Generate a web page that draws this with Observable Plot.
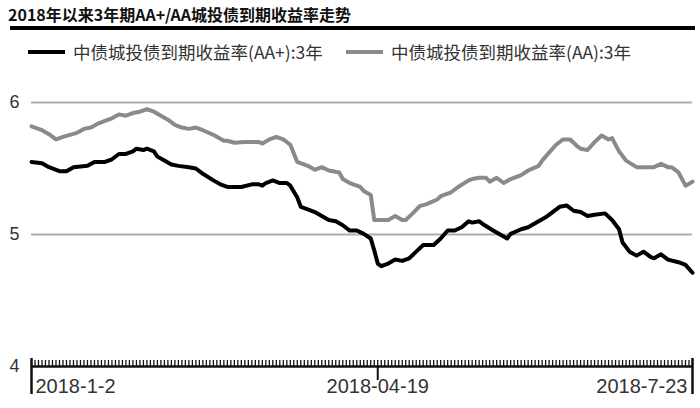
<!DOCTYPE html>
<html>
<head>
<meta charset="utf-8">
<script src="https://cdn.jsdelivr.net/npm/d3@7"></script>
<script src="https://cdn.jsdelivr.net/npm/@observablehq/plot@0.6"></script>
<style>
  html, body { margin: 0; padding: 0; background: #fff; }
  #wrap { position: relative; width: 700px; height: 408px; overflow: hidden; }
  #head { position: relative; height: 62px; }
  #title { position: absolute; left: 8px; top: 2px; font-family: "Noto Sans CJK SC", sans-serif; font-weight: bold; font-size: 16px; color: #111; white-space: nowrap; }
  #rule { position: absolute; left: 10px; top: 26px; width: 685px; height: 4px; background: #000; }
  .leg { position: absolute; top: 39px; font-family: "Noto Sans CJK SC", sans-serif; font-size: 17.5px; color: #333; white-space: nowrap; display: flex; align-items: center; }
  .sw { display: inline-block; width: 37px; height: 4px; margin-right: 8px; }
  #chart { position: absolute; left: 0; top: 62px; }
</style>
</head>
<body>
<div id="wrap">
  <div id="head">
    <div id="title"></div>
    <div id="rule"></div>
    <div class="leg" id="leg1" style="left:28px"></div>
    <div class="leg" id="leg2" style="left:346px"></div>
  </div>
  <div id="chart"></div>
</div>
<script>
const titleText = "2018年以来3年期AA+/AA城投债到期收益率走势";
const seriesNames = ["中债城投债到期收益率(AA+):3年", "中债城投债到期收益率(AA):3年"];
const seriesColors = ["#000000", "#8a8a8a"];

// x = trading-day index from 2018-1-2 (0) to 2018-7-23 (189)
const dayTicks = d3.range(0, 190);
const labelDays = [0, 99, 189];
const labelTexts = ["2018-1-2", "2018-04-19", "2018-7-23"];
const yTicks = [4, 5, 6];
const gridValues = [5, 6];

// AA+ 3Y
const aaPlusDays = [0,3,5,8,10,12,14,16,18,21,23,25,27,29,30,32,33,35,36,38,40,42,45,47,49,52,54,56,60,63,65,66,67,69,71,73,74,76,77,79,81,83,85,87,89,91,93,95,97,98,99,100,102,104,106,108,110,112,115,117,119,121,123,125,126,128,129,132,136,137,140,142,145,147,149,151,153,155,157,159,161,164,166,168,169,171,173,175,177,178,180,182,185,187,189];
const aaPlusValues = [5.55,5.54,5.51,5.48,5.48,5.51,5.515,5.52,5.55,5.55,5.57,5.61,5.61,5.63,5.65,5.64,5.65,5.63,5.59,5.56,5.53,5.52,5.51,5.50,5.46,5.41,5.38,5.36,5.36,5.38,5.38,5.37,5.39,5.41,5.39,5.39,5.37,5.28,5.21,5.19,5.17,5.14,5.11,5.10,5.07,5.03,5.03,5.005,4.97,4.88,4.78,4.76,4.78,4.81,4.80,4.82,4.87,4.92,4.92,4.97,5.03,5.03,5.055,5.10,5.09,5.10,5.08,5.03,4.97,5.005,5.04,5.055,5.10,5.13,5.17,5.21,5.22,5.18,5.17,5.14,5.15,5.16,5.11,5.04,4.94,4.87,4.84,4.87,4.83,4.82,4.85,4.81,4.79,4.77,4.71];

// AA 3Y
const aaDays = [0,3,5,7,9,11,13,15,17,19,21,23,25,27,29,31,33,35,37,39,41,43,45,47,49,52,55,56,58,61,63,65,66,68,70,72,74,76,79,81,83,85,88,89,91,94,95,97,98,100,102,104,106,107,109,111,113,116,117,120,122,125,126,128,130,131,133,135,137,140,142,145,146,148,150,152,154,156,157,159,161,163,165,166,168,170,173,175,178,180,182,183,185,187,189];
const aaValues = [5.82,5.79,5.76,5.72,5.74,5.755,5.77,5.80,5.81,5.84,5.86,5.88,5.91,5.90,5.92,5.93,5.95,5.93,5.90,5.87,5.83,5.81,5.80,5.81,5.79,5.755,5.71,5.71,5.695,5.70,5.70,5.70,5.69,5.72,5.74,5.72,5.68,5.55,5.52,5.49,5.51,5.485,5.47,5.42,5.39,5.36,5.33,5.30,5.11,5.11,5.11,5.14,5.11,5.11,5.16,5.215,5.23,5.265,5.29,5.32,5.36,5.41,5.42,5.43,5.43,5.40,5.43,5.39,5.42,5.45,5.485,5.52,5.56,5.62,5.68,5.72,5.72,5.67,5.65,5.64,5.70,5.75,5.72,5.73,5.63,5.56,5.51,5.51,5.51,5.535,5.51,5.51,5.47,5.37,5.40];

const aaPlus = aaPlusDays.map((d, i) => ({day: d, value: aaPlusValues[i]}));
const aa = aaDays.map((d, i) => ({day: d, value: aaValues[i]}));
const labels = labelDays.map((d, i) => ({day: d, text: labelTexts[i]}));

document.getElementById("title").textContent = titleText;
[["leg1", 0], ["leg2", 1]].forEach(([id, i]) => {
  const el = document.getElementById(id);
  const sw = document.createElement("span");
  sw.className = "sw";
  sw.style.background = seriesColors[i];
  el.appendChild(sw);
  el.appendChild(document.createTextNode(seriesNames[i]));
});

const axisFont = "Liberation Sans, Arial, sans-serif";
const chart = Plot.plot({
  width: 700,
  height: 346,
  marginLeft: 31,
  marginRight: 8,
  marginTop: 40,
  marginBottom: 42,
  style: {fontFamily: axisFont, background: "#fff"},
  x: {domain: [0, 189], axis: null},
  y: {domain: [4, 6], axis: null},
  marks: [
    Plot.ruleY(gridValues, {stroke: "#adadad", strokeWidth: 2}),
    Plot.text(yTicks, {x: 0, y: d => d, text: d => String(d), textAnchor: "end", dx: -12, fontSize: 18, fill: "#333"}),
    Plot.ruleX(dayTicks, {x: d => d, y1: 4, y2: 4, insetTop: -6, stroke: "#111", strokeWidth: 1.3}),
    Plot.ruleY([4], {stroke: "#111", strokeWidth: 2.5}),
    Plot.ruleX([labelDays[0], labelDays[2]], {x: d => d, y1: 4, y2: 4, insetTop: -8, insetBottom: -28, stroke: "#111", strokeWidth: 2.5}),
    Plot.ruleX([labelDays[1]], {x: d => d, y1: 4, y2: 4, insetBottom: -14, stroke: "#111", strokeWidth: 2}),
    Plot.line(aa, {x: "day", y: "value", stroke: seriesColors[1], strokeWidth: 4, strokeLinejoin: "round"}),
    Plot.line(aaPlus, {x: "day", y: "value", stroke: seriesColors[0], strokeWidth: 4, strokeLinejoin: "round"}),
    Plot.text([labels[0]], {x: "day", y: () => 4, text: "text", textAnchor: "start", dx: 4, dy: 20, fontSize: 20, fill: "#333"}),
    Plot.text([labels[1]], {x: "day", y: () => 4, text: "text", textAnchor: "middle", dy: 20, fontSize: 20, fill: "#333"}),
    Plot.text([labels[2]], {x: "day", y: () => 4, text: "text", textAnchor: "end", dx: -5, dy: 20, fontSize: 20, fill: "#333"})
  ]
});
document.getElementById("chart").appendChild(chart);
</script>
</body>
</html>
